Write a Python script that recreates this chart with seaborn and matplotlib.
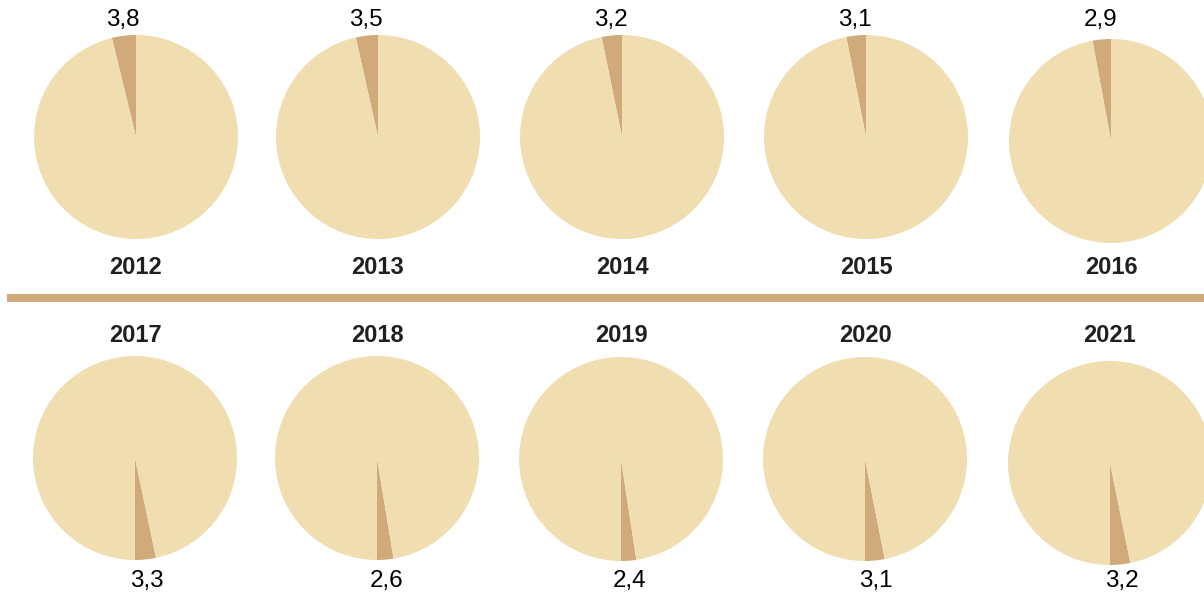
import matplotlib
matplotlib.use('Agg')
import matplotlib.pyplot as plt
import seaborn as sns
import numpy as np
from matplotlib.lines import Line2D

# Data
years_top = ['2012', '2013', '2014', '2015', '2016']
values_top = [3.8, 3.5, 3.2, 3.1, 2.9]
years_bottom = ['2017', '2018', '2019', '2020', '2021']
values_bottom = [3.3, 2.6, 2.4, 3.1, 3.2]

light = '#F0DEB1'
dark = '#D0AA7B'

sns.set_theme(style='white')
plt.rcParams['font.family'] = ['Liberation Sans', 'DejaVu Sans']

W, H = 1204, 592
fig = plt.figure(figsize=(W / 100, H / 100), dpi=100)
fig.patch.set_facecolor('white')

r = 102
top_centers = [(136, 137), (378, 137), (622, 137), (866, 137), (1111, 141)]
bottom_centers = [(135, 458), (377, 458), (621, 459), (865, 459), (1110, 463)]


def fmt(v):
    return '{:.1f}'.format(v).replace('.', ',')


def draw_pie(cx, cy, value, year, top):
    ax = fig.add_axes([(cx - r) / W, (H - cy - r) / H, 2 * r / W, 2 * r / H])
    start = 90 if top else 270
    ax.pie([value, 100 - value], colors=[dark, light], startangle=start,
           counterclock=True, radius=1,
           wedgeprops=dict(linewidth=0, edgecolor='none'))
    ax.set_xlim(-1, 1)
    ax.set_ylim(-1, 1)
    ax.set_aspect('equal')
    ax.axis('off')
    mid = np.deg2rad(start + value * 3.6 / 2)
    lx = (cx + 1.12 * r * np.cos(mid)) / W
    ly = (H - 20) / H if top else (H - 581) / H
    fig.text(lx, ly, fmt(value), ha='center', va='center', fontsize=17.5,
             color='black')
    yy = (H - 267) / H if top else (H - 335) / H
    fig.text(cx / W, yy, year, ha='center', va='center', fontsize=17,
             fontweight='bold', color='#231F20')


for (cx, cy), v, y in zip(top_centers, values_top, years_top):
    draw_pie(cx, cy, v, y, True)
for (cx, cy), v, y in zip(bottom_centers, values_bottom, years_bottom):
    draw_pie(cx, cy, v, y, False)

# Separator line
fig.add_artist(Line2D([7 / W, 1.0], [(H - 297.5) / H] * 2, color=dark,
                      linewidth=8 * 0.72, solid_capstyle='butt'))

fig.savefig('out.png', dpi=100)
